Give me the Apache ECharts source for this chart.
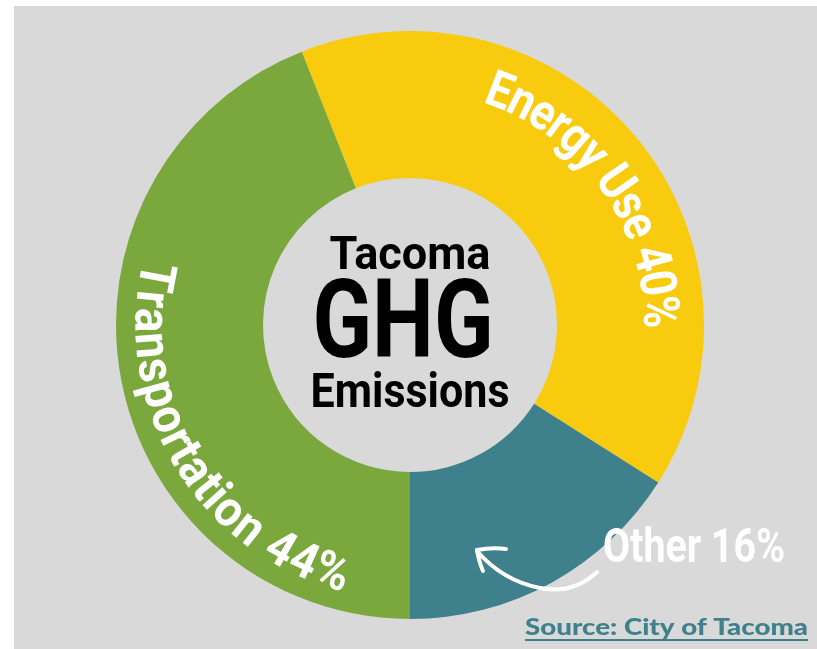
<!DOCTYPE html>
<html><head><meta charset="utf-8">
<script src="https://cdn.jsdelivr.net/npm/echarts@6/dist/echarts.min.js"></script>
<style>
html,body{margin:0;padding:0;background:#fff;}
#bg{position:absolute;left:14px;top:6px;width:803px;height:643px;background:#D9D9D9;}
#c{position:absolute;left:0;top:0;width:817px;height:649px;}
</style>
</head><body><div id="bg"></div><div id="c"></div>
<script>
// ---- data ----
const categories = ['Energy Use', 'Other', 'Transportation'];
const values = [40, 16, 44];
const colors = ['#F8CB0F', '#3E808B', '#7BA83D'];
const titleLines = ['Tacoma', 'GHG', 'Emissions'];
const sourceText = 'Source: City of Tacoma';

// ---- layout ----
const CX = 410, CY = 325, R_IN = 147, R_OUT = 294;
const total = values.reduce((a, b) => a + b, 0);
const energyStartClock = 180 + values[2] / total * 360;
let pieStart = 90 - energyStartClock;
while (pieStart < 0) pieStart += 360;

const ctx = document.createElement('canvas').getContext('2d');
function measure(txt, font) { ctx.font = font; return ctx.measureText(txt).width; }
function fontStr(size, family, weight) { return (weight || 'bold') + ' ' + size + 'px ' + family; }

const FAMILY = 'Roboto';
const charItems = [];
function arcChars(text, opt) {
  const font = fontStr(opt.size, FAMILY);
  const chars = Array.from(text);
  const w = chars.map(c => measure(c, font) * opt.scaleX);
  const n = chars.length;
  let base = 0;
  for (let i = 0; i < n - 1; i++) base += w[i];
  base += w[n - 1] / 2 - w[0] / 2;
  const L = opt.r * Math.abs(opt.a1 - opt.a0) * Math.PI / 180;
  const s = (L - base) / (n - 1);
  let cum = 0;
  for (let i = 0; i < n; i++) {
    const d = cum + w[i] / 2 - w[0] / 2;
    const ang = opt.a0 + opt.dir * d / opt.r * 180 / Math.PI;
    const rot = opt.dir === 1 ? -ang : 180 - ang;
    charItems.push({ r: opt.r, ang: ang, ch: chars[i], rot: rot, size: opt.size, scaleX: opt.scaleX });
    cum += w[i] + s;
  }
}
arcChars(categories[0] + ' ' + values[0] + '%', { size: 51, scaleX: 0.86, r: 247, a0: 21, a1: 87, dir: 1 });
arcChars(categories[2] + ' ' + values[2] + '%', { size: 50, scaleX: 0.92, r: 262, a0: 280.7, a1: 197.5, dir: -1 });

function fitScale(txt, font, target) { return target / measure(txt, font); }
function centerText(txt, size, target, x, y, fill, family, align, weight) {
  const font = fontStr(size, family || FAMILY, weight);
  return {
    type: 'text', x: x, y: y, z: 20,
    scaleX: fitScale(txt, font, target),
    style: { text: txt, font: font, fill: fill, align: align || 'center', verticalAlign: 'middle' }
  };
}
const arrowStyle = { stroke: '#FFFFFF', lineWidth: 4, fill: null, lineCap: 'round' };

const chart = echarts.init(document.getElementById('c'), null, { renderer: 'canvas' });
chart.setOption({
  backgroundColor: 'transparent',
  animation: false,
  polar: { center: [CX, CY], radius: [0, R_OUT] },
  angleAxis: { type: 'value', min: 0, max: 360, startAngle: 90, clockwise: true,
    axisLine: { show: false }, axisTick: { show: false }, axisLabel: { show: false }, splitLine: { show: false } },
  radiusAxis: { type: 'value', min: 0, max: R_OUT,
    axisLine: { show: false }, axisTick: { show: false }, axisLabel: { show: false }, splitLine: { show: false } },
  series: [
    {
      type: 'pie', center: [CX, CY], radius: [R_IN, R_OUT], startAngle: pieStart, clockwise: true,
      label: { show: false }, labelLine: { show: false }, emphasis: { disabled: true }, silent: true,
      itemStyle: { borderWidth: 0 },
      data: categories.map((c, i) => ({ name: c, value: values[i], itemStyle: { color: colors[i] } })),
      z: 2
    },
    {
      type: 'custom', coordinateSystem: 'polar', z: 5, silent: true,
      data: charItems.map(d => [d.r, d.ang]),
      renderItem: function (params, api) {
        const d = charItems[params.dataIndex];
        const p = api.coord([api.value(0), api.value(1)]);
        return {
          type: 'text', x: p[0], y: p[1], rotation: d.rot * Math.PI / 180, scaleX: d.scaleX,
          style: { text: d.ch, font: fontStr(d.size, FAMILY), fill: '#FFFFFF', align: 'center', verticalAlign: 'middle' }
        };
      }
    }
  ],
  graphic: [
    centerText(titleLines[0], 47, 161, 410, 257, '#000'),
    centerText(titleLines[1], 110, 181, 403, 329, '#000'),
    centerText(titleLines[2], 49, 199, 410, 395, '#000'),
    centerText(categories[1] + ' ' + values[1] + '%', 49, 182, 694, 550, '#FFFFFF'),
    { type: 'bezierCurve', z: 20, shape: { x1: 597, y1: 572, cpx1: 580, cpy1: 588, cpx2: 560, cpy2: 592, x2: 540, y2: 588 }, style: arrowStyle },
    { type: 'bezierCurve', z: 20, shape: { x1: 540, y1: 588, cpx1: 515, cpy1: 583, cpx2: 495, cpy2: 572, x2: 477, y2: 551 }, style: arrowStyle },
    { type: 'bezierCurve', z: 20, shape: { x1: 477, y1: 550, cpx1: 492, cpy1: 547, x2: 506, y2: 549 }, style: arrowStyle },
    { type: 'bezierCurve', z: 20, shape: { x1: 477, y1: 550, cpx1: 479, cpy1: 562, x2: 483, y2: 571 }, style: arrowStyle },
    centerText(sourceText, 23, 283, 808, 628, '#3E808B', 'Lato', 'right', '900'),
    { type: 'line', z: 20, shape: { x1: 525, y1: 640, x2: 808, y2: 640 }, style: { stroke: '#3E808B', lineWidth: 2 } }
  ]
});
</script>
</body></html>
